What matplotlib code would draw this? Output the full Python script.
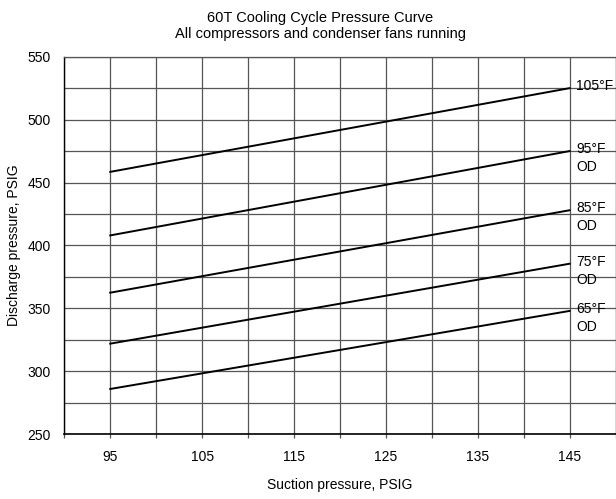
import numpy as np
import matplotlib.pyplot as plt
from matplotlib.ticker import MultipleLocator

plt.rcParams['font.family'] = ['Liberation Sans', 'DejaVu Sans']

# suction pressure endpoints, PSIG
suction = [95, 145]
# discharge pressure at each end, per outdoor temperature
curve_labels = ['105°F', '95°F\nOD', '85°F\nOD', '75°F\nOD', '65°F\nOD']
discharge_start = [458.5, 408, 362.5, 322, 286]
discharge_end = [525, 475, 428, 385.5, 348]

fig = plt.figure(figsize=(6.16, 4.99), dpi=100)
ax = fig.add_axes([0.1044, 0.1297, 0.8948, 0.7567])

for lab, d0, d1 in zip(curve_labels, discharge_start, discharge_end):
    ax.plot(suction, [d0, d1], color='black', lw=1.4, zorder=3)
    ax.text(suction[1] + 0.75, d1 + 7, lab, ha='left', va='top',
            fontsize=10, linespacing=1.35, zorder=4, clip_on=False)

ax.set_xlim(90, 150)
ax.set_ylim(250, 550)
ax.xaxis.set_major_locator(MultipleLocator(10, offset=5))
ax.xaxis.set_minor_locator(MultipleLocator(5))
ax.yaxis.set_major_locator(MultipleLocator(50))
ax.yaxis.set_minor_locator(MultipleLocator(25))
ax.grid(True, which='both', color='#555555', lw=0.9)
ax.set_axisbelow(True)

ax.tick_params(axis='x', which='both', length=3, width=0.9, color='#555555',
               labelsize=10, pad=8)
ax.tick_params(axis='y', which='both', length=0, labelsize=10, pad=10)

for s in ax.spines.values():
    s.set_color('#555555')
    s.set_linewidth(0.9)
ax.spines['bottom'].set_color('black')
ax.spines['bottom'].set_linewidth(1.2)
ax.spines['left'].set_color('black')
ax.spines['left'].set_linewidth(1.0)

ax.set_xlabel('Suction pressure, PSIG', fontsize=10, va='center')
ax.xaxis.set_label_coords(0.5, -0.134)
ax.set_ylabel('Discharge pressure, PSIG', fontsize=10, va='center')
ax.yaxis.set_label_coords(-0.091, 0.5)
fig.text(0.52, 0.978, '60T Cooling Cycle Pressure Curve\nAll compressors and condenser fans running',
         ha='center', va='top', fontsize=10.5, linespacing=1.2)

fig.savefig('out.png', dpi=100)
